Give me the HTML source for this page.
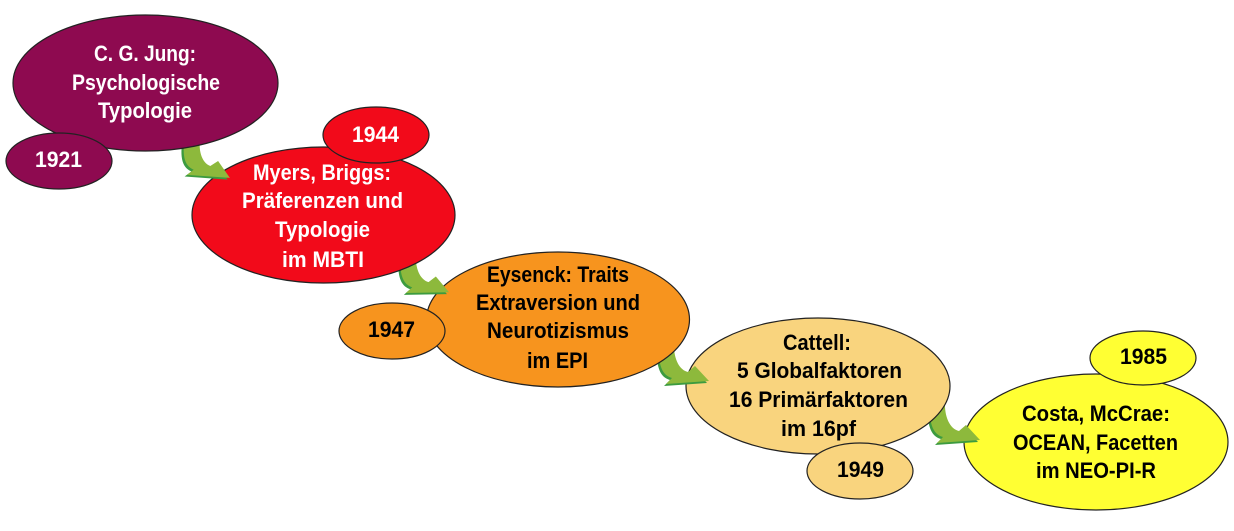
<!DOCTYPE html>
<html>
<head>
<meta charset="utf-8">
<style>
  html,body{margin:0;padding:0;background:#ffffff;}
  svg{display:block;}
  text{font-family:"Liberation Sans",Arial,sans-serif;font-weight:bold;font-size:22.5px;}
  .w{fill:#ffffff;}
  .b{fill:#000000;}
</style>
</head>
<body>
<svg width="1234" height="531" viewBox="0 0 1234 531" xmlns="http://www.w3.org/2000/svg">
  <defs>
    <path id="arr" d="M -8,-40 L 7,-42 C 6,-25 12,-13 21,-11 L 28,-17 L 42,-2 L -1,1 L 5,-5 C -6,-8 -9,-20 -8,-40 Z"/>
  </defs>

  <!-- Costa -->
  <ellipse cx="1096" cy="442" rx="132" ry="68" fill="#ffff33" stroke="#222" stroke-width="1.2"/>
  <ellipse cx="1143" cy="358" rx="53" ry="27" fill="#ffff33" stroke="#222" stroke-width="1.2"/>
  <!-- arrow 4 -->
  <g transform="translate(938,442)">
    <use href="#arr" transform="translate(-2,2)" fill="#3c9b3f"/>
    <use href="#arr" fill="#8db93c"/>
  </g>

  <!-- Cattell -->
  <ellipse cx="818" cy="386" rx="132" ry="68" fill="#f9d47e" stroke="#222" stroke-width="1.2"/>
  <ellipse cx="860" cy="471" rx="53" ry="28" fill="#f9d47e" stroke="#222" stroke-width="1.2"/>
  <!-- arrow 3 -->
  <g transform="translate(667,383)">
    <use href="#arr" transform="translate(-2,2)" fill="#3c9b3f"/>
    <use href="#arr" fill="#8db93c"/>
  </g>

  <!-- Eysenck -->
  <ellipse cx="558" cy="319.5" rx="131.5" ry="67.5" fill="#f7941e" stroke="#222" stroke-width="1.2"/>
  <ellipse cx="392" cy="331" rx="53" ry="28" fill="#f7941e" stroke="#222" stroke-width="1.2"/>
  <!-- arrow 2 -->
  <g transform="translate(407,292) rotate(3)">
    <use href="#arr" transform="translate(-2,2)" fill="#3c9b3f"/>
    <use href="#arr" fill="#8db93c"/>
  </g>

  <!-- Myers -->
  <ellipse cx="323.5" cy="215" rx="131.5" ry="68" fill="#f20a1a" stroke="#222" stroke-width="1.2"/>
  <ellipse cx="376" cy="135" rx="53" ry="28" fill="#f20a1a" stroke="#222" stroke-width="1.2"/>
  <!-- arrow 1 -->
  <g transform="translate(188,174) rotate(8)">
    <use href="#arr" transform="translate(-2,2)" fill="#3c9b3f"/>
    <use href="#arr" fill="#8db93c"/>
  </g>

  <!-- Jung -->
  <ellipse cx="145.5" cy="83" rx="132.5" ry="68" fill="#8e0a50" stroke="#222" stroke-width="1.2"/>
  <ellipse cx="59" cy="161" rx="53" ry="28" fill="#8e0a50" stroke="#222" stroke-width="1.2"/>

  <!-- Texts -->
  <text class="w" x="94" y="61" textLength="102" lengthAdjust="spacingAndGlyphs">C. G. Jung:</text>
  <text class="w" x="72" y="90" textLength="148" lengthAdjust="spacingAndGlyphs">Psychologische</text>
  <text class="w" x="98" y="118" textLength="94" lengthAdjust="spacingAndGlyphs">Typologie</text>
  <text class="w" x="35" y="167" textLength="47" lengthAdjust="spacingAndGlyphs">1921</text>

  <text class="w" x="352" y="142" textLength="47" lengthAdjust="spacingAndGlyphs">1944</text>
  <text class="w" x="253" y="180" textLength="138" lengthAdjust="spacingAndGlyphs">Myers, Briggs:</text>
  <text class="w" x="242" y="208" textLength="161" lengthAdjust="spacingAndGlyphs">Präferenzen und</text>
  <text class="w" x="275" y="237" textLength="95" lengthAdjust="spacingAndGlyphs">Typologie</text>
  <text class="w" x="282" y="267" textLength="82" lengthAdjust="spacingAndGlyphs">im MBTI</text>

  <text class="b" x="487" y="282" textLength="142" lengthAdjust="spacingAndGlyphs">Eysenck: Traits</text>
  <text class="b" x="476" y="310" textLength="164" lengthAdjust="spacingAndGlyphs">Extraversion und</text>
  <text class="b" x="487" y="338" textLength="142" lengthAdjust="spacingAndGlyphs">Neurotizismus</text>
  <text class="b" x="527" y="368" textLength="61" lengthAdjust="spacingAndGlyphs">im EPI</text>
  <text class="b" x="368" y="337" textLength="47" lengthAdjust="spacingAndGlyphs">1947</text>

  <text class="b" x="783" y="350" textLength="68" lengthAdjust="spacingAndGlyphs">Cattell:</text>
  <text class="b" x="737" y="378" textLength="165" lengthAdjust="spacingAndGlyphs">5 Globalfaktoren</text>
  <text class="b" x="729" y="407" textLength="179" lengthAdjust="spacingAndGlyphs">16 Primärfaktoren</text>
  <text class="b" x="781" y="436" textLength="75" lengthAdjust="spacingAndGlyphs">im 16pf</text>
  <text class="b" x="837" y="477" textLength="47" lengthAdjust="spacingAndGlyphs">1949</text>

  <text class="b" x="1120" y="364" textLength="47" lengthAdjust="spacingAndGlyphs">1985</text>
  <text class="b" x="1022" y="421" textLength="148" lengthAdjust="spacingAndGlyphs">Costa, McCrae:</text>
  <text class="b" x="1013" y="450" textLength="165" lengthAdjust="spacingAndGlyphs">OCEAN, Facetten</text>
  <text class="b" x="1036" y="478" textLength="120" lengthAdjust="spacingAndGlyphs">im NEO-PI-R</text>
</svg>
</body>
</html>
